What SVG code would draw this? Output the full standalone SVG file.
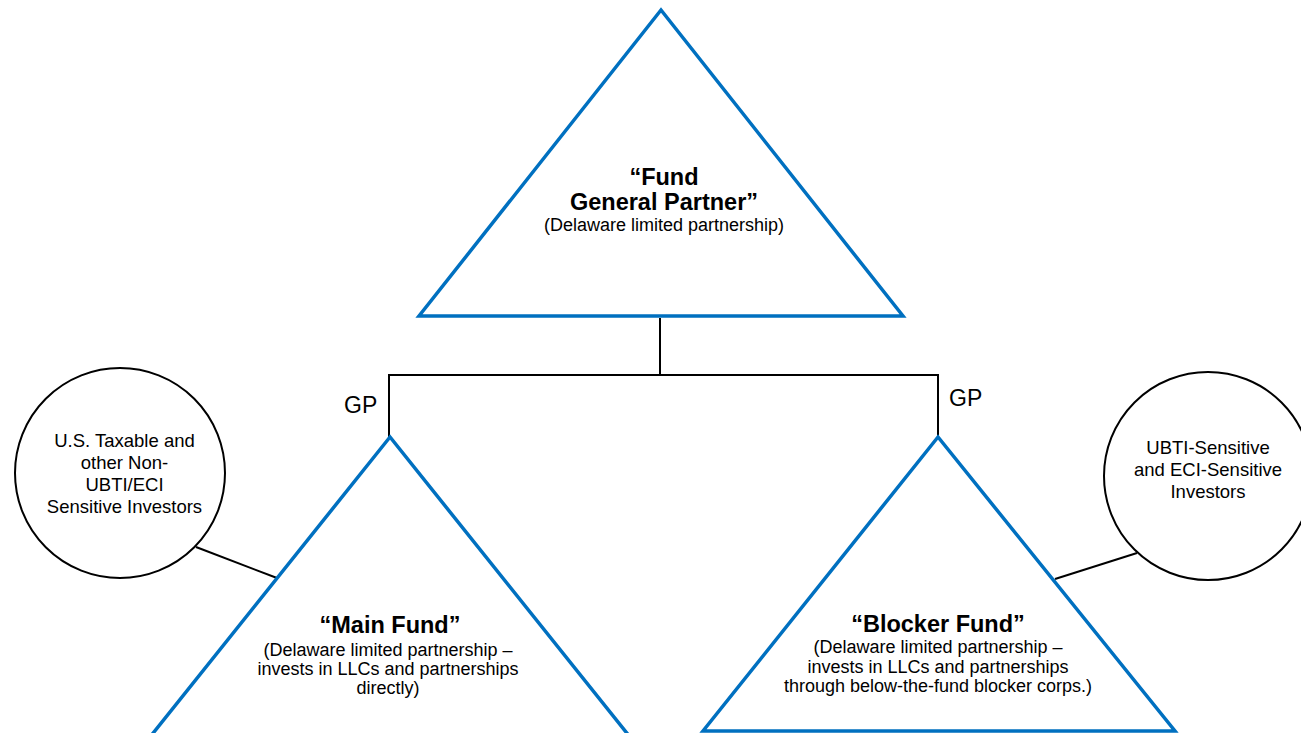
<svg xmlns="http://www.w3.org/2000/svg" width="1301" height="733" viewBox="0 0 1301 733">
<style>
.tri{fill:#fff;stroke:#0070C0;stroke-width:3.5;stroke-linejoin:miter}
.circ{fill:#fff;stroke:#000;stroke-width:2}
.ln{fill:none;stroke:#000;stroke-width:2}
text{font-family:"Liberation Sans",Arial,Helvetica,sans-serif;fill:#000;text-anchor:middle}
.b{font-weight:bold;font-size:23.5px}
.n{font-size:18px}
.c{font-size:18.5px}
.gp{font-size:23px;text-anchor:start}
</style>
<rect width="1301" height="733" fill="#fff"/>
<g id="connectors">
<polyline class="ln" points="660,318 660,375"/>
<polyline class="ln" points="389,437 389,375 938,375 938,437"/>
<line class="ln" x1="196" y1="547" x2="277" y2="578"/>
<line class="ln" x1="1137" y1="553" x2="1055" y2="579"/>
</g>
<g id="fund-gp">
<polygon class="tri" points="661,10 419,316 903,316"/>
<text class="b" x="664" y="185">“Fund</text>
<text class="b" x="664" y="210">General Partner”</text>
<text class="n" x="664" y="231">(Delaware limited partnership)</text>
</g>
<g id="main-fund">
<polygon class="tri" points="390,437 146,742 634,742"/>
<text class="b" x="390" y="633">“Main Fund”</text>
<text class="n" x="388" y="655.5">(Delaware limited partnership –</text>
<text class="n" x="388" y="674.5">invests in LLCs and partnerships</text>
<text class="n" x="388" y="694">directly)</text>
</g>
<g id="blocker-fund">
<polygon class="tri" points="938,437 703,731 1175,731"/>
<text class="b" x="938" y="632">“Blocker Fund”</text>
<text class="n" x="938" y="653">(Delaware limited partnership –</text>
<text class="n" x="938" y="672.5">invests in LLCs and partnerships</text>
<text class="n" x="938" y="692">through below-the-fund blocker corps.)</text>
</g>
<g id="gp-labels">
<text class="gp" x="344" y="413">GP</text>
<text class="gp" x="949" y="406">GP</text>
</g>
<g id="us-taxable-investors">
<circle class="circ" cx="120" cy="473" r="105"/>
<text class="c" x="124.5" y="447">U.S. Taxable and</text>
<text class="c" x="124.5" y="469">other Non-</text>
<text class="c" x="124.5" y="491">UBTI/ECI</text>
<text class="c" x="124.5" y="513">Sensitive Investors</text>
</g>
<g id="ubti-sensitive-investors">
<circle class="circ" cx="1208" cy="476" r="104"/>
<text class="c" x="1208" y="454">UBTI-Sensitive</text>
<text class="c" x="1208" y="476">and ECI-Sensitive</text>
<text class="c" x="1208" y="498">Investors</text>
</g>
</svg>
